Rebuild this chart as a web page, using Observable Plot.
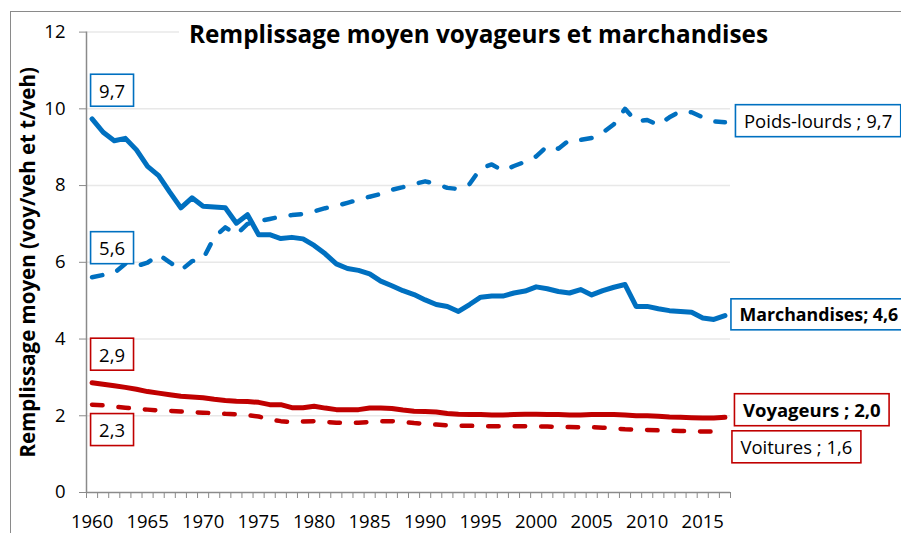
<!DOCTYPE html>
<html>
<head>
<meta charset="utf-8">
<script src="https://cdn.jsdelivr.net/npm/d3@7"></script>
<script src="https://cdn.jsdelivr.net/npm/@observablehq/plot@0.6"></script>
<style>
  html, body { margin: 0; padding: 0; background: #fff; }
  #chart { position: relative; width: 901px; height: 533px; overflow: hidden; background: #fff; }
  #border { position: absolute; left: 10px; top: 11px; width: 1000px; height: 1000px;
            border-left: 1.5px solid #8a8a8a; border-top: 1.5px solid #8a8a8a; z-index: 0; }
  #chart svg { position: absolute; left: 0; top: 0; z-index: 1; }
</style>
</head>
<body>
<div id="chart"><div id="border"></div></div>
<script>
// ---------------- data ----------------
const years = [1960,1961,1962,1963,1964,1965,1966,1967,1968,1969,
               1970,1971,1972,1973,1974,1975,1976,1977,1978,1979,
               1980,1981,1982,1983,1984,1985,1986,1987,1988,1989,
               1990,1991,1992,1993,1994,1995,1996,1997,1998,1999,
               2000,2001,2002,2003,2004,2005,2006,2007,2008,2009,
               2010,2011,2012,2013,2014,2015,2016,2017];

const marchandises = [9.74,9.39,9.17,9.23,8.93,8.50,8.26,7.83,7.42,7.68,
                      7.46,7.44,7.42,7.02,7.24,6.72,6.72,6.62,6.65,6.61,
                      6.44,6.22,5.96,5.84,5.79,5.70,5.51,5.39,5.26,5.16,
                      5.02,4.90,4.85,4.72,4.90,5.09,5.12,5.12,5.20,5.25,
                      5.36,5.31,5.24,5.20,5.29,5.15,5.26,5.35,5.42,4.85,
                      4.85,4.79,4.74,4.72,4.70,4.55,4.51,4.61];

const poidsLourds = [5.61,5.67,5.72,5.96,5.90,5.99,6.20,6.00,5.79,6.03,
                     6.09,6.65,6.91,6.72,7.00,7.07,7.13,7.19,7.23,7.26,
                     7.33,7.41,7.47,7.55,7.63,7.71,7.78,7.89,7.96,8.04,
                     8.11,8.04,7.94,7.91,8.04,8.45,8.55,8.39,8.51,8.62,
                     8.76,9.03,8.96,9.19,9.19,9.24,9.38,9.60,10.00,9.67,
                     9.71,9.58,9.78,9.94,9.91,9.78,9.67,9.65];

const voyageurs = [2.86,2.82,2.78,2.74,2.69,2.63,2.59,2.55,2.51,2.49,
                   2.47,2.43,2.40,2.38,2.37,2.35,2.29,2.29,2.21,2.21,
                   2.25,2.20,2.16,2.16,2.16,2.20,2.20,2.19,2.15,2.12,
                   2.11,2.10,2.06,2.04,2.03,2.03,2.02,2.02,2.03,2.04,
                   2.04,2.03,2.03,2.02,2.02,2.03,2.03,2.03,2.02,2.00,
                   2.00,1.99,1.97,1.96,1.95,1.94,1.94,1.96];

const voitures = [2.29,2.27,2.24,2.21,2.18,2.16,2.14,2.13,2.11,2.09,
                  2.08,2.07,2.05,2.04,2.02,1.98,1.90,1.86,1.83,1.85,
                  1.86,1.84,1.82,1.82,1.82,1.84,1.86,1.86,1.84,1.81,
                  1.79,1.77,1.75,1.74,1.74,1.73,1.73,1.73,1.73,1.73,
                  1.72,1.72,1.71,1.71,1.70,1.70,1.69,1.67,1.65,1.64,
                  1.63,1.62,1.61,1.60,1.60,1.59,1.59,1.58];

const seriesNames = ["Poids-lourds", "Marchandises", "Voitures", "Voyageurs"];
const seriesValues = [poidsLourds, marchandises, voitures, voyageurs];
const startLabels = ["5,6", "9,7", "2,3", "2,9"];
const endLabels = ["Poids-lourds ; 9,7", "Marchandises; 4,6", "Voitures ; 1,6", "Voyageurs ; 2,0"];

const title = "Remplissage moyen voyageurs et marchandises";
const yLabel = "Remplissage moyen (voy/veh et t/veh)";
const yTicks = [0, 2, 4, 6, 8, 10, 12];
const xTickLabels = [1960, 1965, 1970, 1975, 1980, 1985, 1990, 1995, 2000, 2005, 2010, 2015];

// ---------------- styles ----------------
const BLUE = "#0070C0", RED = "#C00000";
const FONT = "Open Sans";
const style = {
  "Poids-lourds": {stroke: BLUE, width: 4.5, dash: "10.5,16", bold: false, size: 18.5, sdx: 20, sdy: -28, edx: 19, edy: 0},
  "Marchandises": {stroke: BLUE, width: 5, dash: null, bold: true, size: 17.8, sdx: 20, sdy: -27, edx: 14.5, edy: 0},
  "Voitures":     {stroke: RED, width: 4.5, dash: "10.5,16", bold: false, size: 18.5, sdx: 20, sdy: 26.5, edx: 15.5, edy: 16.5},
  "Voyageurs":    {stroke: RED, width: 5, dash: null, bold: true, size: 18.5, sdx: 20, sdy: -27, edx: 18, edy: -6}
};

// ---------------- tables ----------------
const rows = [];
seriesNames.forEach((name, i) => {
  seriesValues[i].forEach((v, j) => rows.push({series: name, year: years[j], value: v}));
});
const lastIdx = years.length - 1;
const labelRows = seriesNames.map((name, i) => ({
  series: name,
  first: years[0], firstValue: seriesValues[i][0], startLabel: startLabels[i],
  last: years[lastIdx], lastValue: seriesValues[i][lastIdx], endLabel: endLabels[i]
}));
const boundaries = years.map(y => y - 0.5).concat([years[lastIdx] + 0.5]);

// ---------------- marks ----------------
const marks = [];
marks.push(Plot.ruleY(yTicks.filter(d => d > 0), {stroke: "#e8e8e8", strokeWidth: 1.5}));

// title (white box added after render)
marks.push(Plot.text([title], {
  frameAnchor: "top", dx: 70, dy: 3, lineAnchor: "middle",
  fontSize: 24.3, fontWeight: "bold", fill: "#000", className: "box-title"
}));

// axes
marks.push(Plot.axisY({ticks: yTicks, tickSize: 7, tickPadding: 14, stroke: "#8a8a8a",
  fontSize: 18.5, fill: "#000", label: null, tickFormat: d => String(d)}));
marks.push(Plot.axisX({ticks: boundaries, tickSize: 6, stroke: "#8a8a8a", tickFormat: () => "", label: null}));
marks.push(Plot.axisX({ticks: xTickLabels, tickSize: 0, tickPadding: 22.5,
  fontSize: 18.5, fill: "#000", label: null, tickFormat: d => String(d)}));
marks.push(Plot.ruleY([0], {stroke: "#8a8a8a", strokeWidth: 1.5}));
marks.push(Plot.ruleX([boundaries[0]], {stroke: "#8a8a8a", strokeWidth: 1.5}));

// y label
marks.push(Plot.text([yLabel], {frameAnchor: "left", dx: -58, rotate: -90,
  textAnchor: "middle", lineAnchor: "middle",
  fontSize: 20.5, fontWeight: "bold", fill: "#000"}));

// lines
seriesNames.forEach(name => {
  const s = style[name];
  marks.push(Plot.line(rows.filter(r => r.series === name), {
    x: "year", y: "value", stroke: s.stroke, strokeWidth: s.width,
    strokeDasharray: s.dash || undefined, strokeLinecap: "round", strokeLinejoin: "round"
  }));
});

// labels
labelRows.forEach(r => {
  const s = style[r.series];
  const cls = s.stroke === BLUE ? "box-blue" : "box-red";
  marks.push(Plot.text([r], {x: "first", y: "firstValue", text: "startLabel",
    dx: s.sdx, dy: s.sdy, textAnchor: "middle", lineAnchor: "middle",
    fontSize: 18.5, fill: "#000", className: cls}));
  marks.push(Plot.text([r], {x: "last", y: "lastValue", text: "endLabel",
    dx: s.edx, dy: s.edy, textAnchor: "start", lineAnchor: "middle",
    fontSize: s.size, fontWeight: s.bold ? "bold" : "normal", fill: "#000", className: cls}));
});

const chart = Plot.plot({
  width: 901, height: 533,
  marginLeft: 86, marginRight: 171, marginTop: 31.6, marginBottom: 41,
  x: {type: "linear", domain: [boundaries[0], boundaries[boundaries.length - 1]], axis: null},
  y: {domain: [0, 12], axis: null},
  style: {fontFamily: FONT, background: "transparent", overflow: "visible", color: "#000"},
  marks
});

document.getElementById("chart").append(chart);

// boxes behind text
function boxify(selector, stroke, fill, padX, padY) {
  d3.select(chart).selectAll(selector + " text").each(function () {
    const b = this.getBBox();
    const rect = document.createElementNS("http://www.w3.org/2000/svg", "rect");
    rect.setAttribute("x", b.x - padX);
    rect.setAttribute("y", b.y - padY);
    rect.setAttribute("width", b.width + 2 * padX);
    rect.setAttribute("height", b.height + 2 * padY);
    rect.setAttribute("fill", fill);
    rect.setAttribute("stroke", stroke);
    rect.setAttribute("stroke-width", stroke === "none" ? 0 : 1.6);
    const t = this.getAttribute("transform");
    if (t) rect.setAttribute("transform", t);
    this.parentNode.insertBefore(rect, this);
  });
}
boxify("g.box-title", "none", "#fff", 10, 2);
boxify("g.box-blue", BLUE, "#fff", 8.5, 3.5);
boxify("g.box-red", RED, "#fff", 8.5, 3.5);
</script>
</body>
</html>
